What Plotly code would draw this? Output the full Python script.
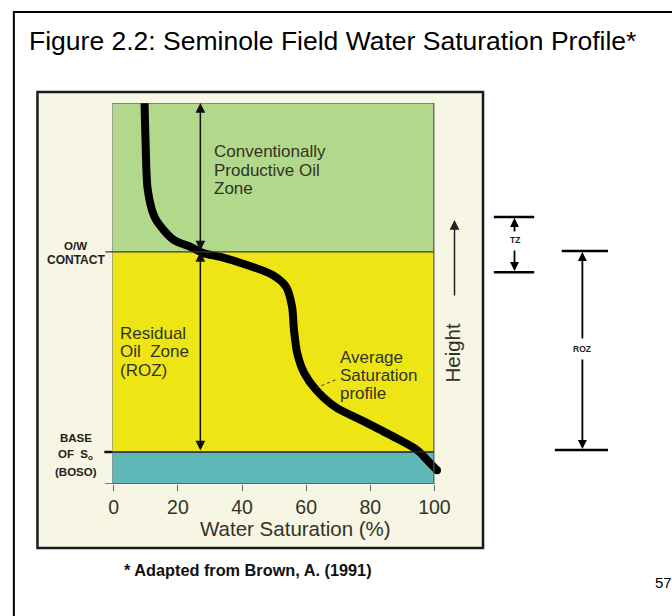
import plotly.graph_objects as go

# ---------------- data ----------------
sw_curve = [9.6, 9.9, 10.6, 12.7, 15.5, 18.8, 24.0, 28.0, 33.3, 41.5, 49.5, 53.8, 55.6, 56.2,
            57.2, 59.4, 63.1, 69.1, 78.3, 87.5, 94.6, 98.6, 100.8]
height_curve = [100, 90.3, 77.2, 70.1, 66.7, 64.0, 62.2, 60.6, 59.6, 57.5, 54.9, 51.7, 46.5, 40.4,
                34.4, 29.1, 24.7, 20.2, 16.3, 12.3, 8.9, 5.5, 3.6]
x_ticks = [0, 20, 40, 60, 80, 100]
x_tick_labels = ["0", "20", "40", "60", "80", "100"]

TOP = 100.0
OW_CONTACT = 60.9
BOSO = 8.4
BOTTOM = 0.0
ARROW_SW = 27.0

TZ_TOP, TZ_BOTTOM = 70.1, 55.6
ROZ_TOP, ROZ_BOTTOM = 61.15, 8.9

zone_colors = {"green": "#b1d88b", "yellow": "#ede614", "teal": "#5fb8b7"}

W, H = 672, 616
FONT = "Arial, Liberation Sans, sans-serif"
TXT = "#333325"


def PX(x):
    return x / W


def PY(y):
    return 1 - y / H


# axis geometry (pixels)
X_RIGHT_ZONE = 437
X0_PX, PX_PER_UNIT = 111.6, 3.26
XR = [-0.5, 103.0]
dom_x0 = X0_PX + XR[0] * PX_PER_UNIT
dom_x1 = X0_PX + XR[1] * PX_PER_UNIT
Y_TOP_PX, Y_BOT_PX = 103, 484
Y_PX_PER_UNIT = (Y_BOT_PX - Y_TOP_PX) / (TOP - BOTTOM)
XZ_RIGHT = (X_RIGHT_ZONE - X0_PX) / PX_PER_UNIT

fig = go.Figure()
fig.add_trace(go.Scatter(
    x=sw_curve, y=height_curve, mode="lines",
    line=dict(color="black", width=8, shape="spline", smoothing=0.8),
    hoverinfo="skip", showlegend=False))
# rounded end of the profile
fig.add_trace(go.Scatter(
    x=sw_curve[-1:], y=height_curve[-1:], mode="markers",
    marker=dict(color="black", size=8, line=dict(width=0)),
    hoverinfo="skip", showlegend=False, cliponaxis=False))

shapes = []
# slide frame
shapes.append(dict(type="rect", xref="paper", yref="paper", x0=PX(10), x1=1.2, y0=-0.2, y1=PY(12),
                   line=dict(color="black", width=2), fillcolor="white", layer="below"))
# inner picture box
shapes.append(dict(type="rect", xref="paper", yref="paper", x0=PX(34), x1=PX(487), y0=PY(548), y1=PY(92),
                   line=dict(color="#1a1a1a", width=2.5), fillcolor="#f7f5e4", layer="below"))
# zones
for (y0, y1, c) in [(OW_CONTACT, TOP, "green"), (BOSO, OW_CONTACT, "yellow"), (BOTTOM, BOSO, "teal")]:
    shapes.append(dict(type="rect", xref="x", yref="y", x0=XR[0], x1=XZ_RIGHT, y0=y0, y1=y1,
                       line=dict(width=0), fillcolor=zone_colors[c], layer="below"))
# borders
shapes.append(dict(type="line", xref="paper", yref="y", x0=PX(110), x1=PX(437), y0=TOP, y1=TOP,
                   line=dict(color="#444", width=1.2)))
shapes.append(dict(type="line", xref="x", yref="y", x0=XZ_RIGHT, x1=XZ_RIGHT, y0=BOTTOM, y1=TOP,
                   line=dict(color="#555", width=1.2)))
shapes.append(dict(type="line", xref="x", yref="y", x0=XR[0], x1=XR[0], y0=BOTTOM, y1=TOP,
                   line=dict(color="#777", width=1)))
shapes.append(dict(type="line", xref="paper", yref="y", x0=PX(103), x1=PX(437), y0=OW_CONTACT, y1=OW_CONTACT,
                   line=dict(color="#3a3a3a", width=1.2)))
shapes.append(dict(type="line", xref="paper", yref="y", x0=PX(110), x1=PX(437), y0=BOSO, y1=BOSO,
                   line=dict(color="#222", width=1.5)))
shapes.append(dict(type="line", xref="paper", yref="y", x0=PX(102), x1=PX(110), y0=BOSO, y1=BOSO,
                   line=dict(color="#111", width=2.5)))
shapes.append(dict(type="line", xref="paper", yref="y", x0=PX(103), x1=PX(437), y0=BOTTOM, y1=BOTTOM,
                   line=dict(color="#555", width=1.3)))
# leader line for "Average Saturation profile"
shapes.append(dict(type="line", xref="x", yref="y", x0=69.1, y0=27.3, x1=63.0, y1=25.2,
                   line=dict(color="#333", width=1, dash="dot")))
# TZ / ROZ bracket bars
for (xa, xb, yv) in [(498, 539, TZ_TOP), (498, 539, TZ_BOTTOM), (567, 614, ROZ_TOP), (560, 614, ROZ_BOTTOM)]:
    shapes.append(dict(type="line", xref="paper", yref="y", x0=PX(xa), x1=PX(xb), y0=yv, y1=yv,
                       line=dict(color="black", width=2.5)))

ann = []


def text(x, y, s, size, anchor="left", bold=False, color=TXT, yanchor="middle", angle=0):
    ann.append(dict(xref="paper", yref="paper", x=PX(x), y=PY(y), text=("<b>%s</b>" % s) if bold else s,
                    showarrow=False, xanchor=anchor, yanchor=yanchor, textangle=angle,
                    font=dict(family=FONT, size=size, color=color)))


text(23, 41, "Figure 2.2: Seminole Field Water Saturation Profile*", 26.5, color="black")
for i, s in enumerate(["Conventionally", "Productive Oil", "Zone"]):
    text(211, 152 + 18 * i, s, 17)
for i, s in enumerate(["Residual", "Oil  Zone", "(ROZ)"]):
    text(116, 333 + 18.5 * i, s, 17)
for i, s in enumerate(["Average", "Saturation", "profile"]):
    text(340, 357 + 18 * i, s, 17)
text(73, 246, "O/W", 11.5, anchor="center", bold=True, color="#222")
text(73, 260, "CONTACT", 12, anchor="center", bold=True, color="#222")
text(73, 438, "BASE", 11.5, anchor="center", bold=True, color="#222")
text(73, 455, "OF  S<sub>o</sub>", 11.5, anchor="center", bold=True, color="#222")
text(73, 472, "(BOSO)", 11.5, anchor="center", bold=True, color="#222")
text(296, 528, "Water Saturation (%)", 20.5, anchor="center")
text(455, 353, "Height", 20.5, anchor="center", angle=-90)
text(519, 240, "TZ", 8.5, anchor="center", bold=True, color="#222")
text(588, 349, "ROZ", 8.5, anchor="center", bold=True, color="#222")
text(248, 570, "* Adapted from Brown, A. (1991)", 16.3, anchor="center", bold=True, color="#111")
text(660, 582, "57", 15, color="black")

# vertical zone arrows inside the plot
for (ya, yb) in [(TOP, OW_CONTACT), (OW_CONTACT, BOSO)]:
    ann.append(dict(xref="x", yref="y", axref="x", ayref="y", x=ARROW_SW, y=ya, ax=ARROW_SW, ay=yb,
                    text="", showarrow=True, arrowside="end+start", arrowhead=2, arrowsize=1.3,
                    arrowwidth=1.5, arrowcolor="#111"))
# Height arrow (tail offset in pixels)
ann.append(dict(xref="paper", yref="paper", axref="pixel", ayref="pixel", x=PX(458), y=PY(220),
                ax=0, ay=77, text="", showarrow=True, arrowhead=2, arrowsize=1.3,
                arrowwidth=1.5, arrowcolor="#222"))
# TZ / ROZ arrows (head in data units, tail offset in pixels)
for (xp, tail, head) in [(519, 65.9, 69.8), (519, 61.7, 55.9), (588, 37.8, 60.9), (588, 33.1, 9.2)]:
    ann.append(dict(xref="paper", yref="y", axref="pixel", ayref="pixel", x=PX(xp), y=head,
                    ax=0, ay=(head - tail) * Y_PX_PER_UNIT, text="", showarrow=True, arrowhead=2,
                    arrowsize=1.0, arrowwidth=1.8, arrowcolor="black"))

fig.update_layout(
    width=W, height=H, margin=dict(l=0, r=0, t=0, b=0),
    paper_bgcolor="white", plot_bgcolor="rgba(0,0,0,0)",
    shapes=shapes, annotations=ann, showlegend=False,
    xaxis=dict(domain=[PX(dom_x0), PX(dom_x1)], range=XR, tickvals=x_ticks, ticktext=x_tick_labels,
               ticks="outside", ticklen=6, tickcolor="#666", tickwidth=1, showgrid=False,
               zeroline=False, showline=False, fixedrange=True,
               tickfont=dict(family=FONT, size=19.5, color=TXT)),
    yaxis=dict(domain=[PY(Y_BOT_PX), PY(Y_TOP_PX)], range=[BOTTOM, TOP], visible=False,
               fixedrange=True),
)

fig.write_html("out.html", config={"displayModeBar": False},
               post_script="document.body.style.margin='0';document.body.style.overflow='hidden';")
